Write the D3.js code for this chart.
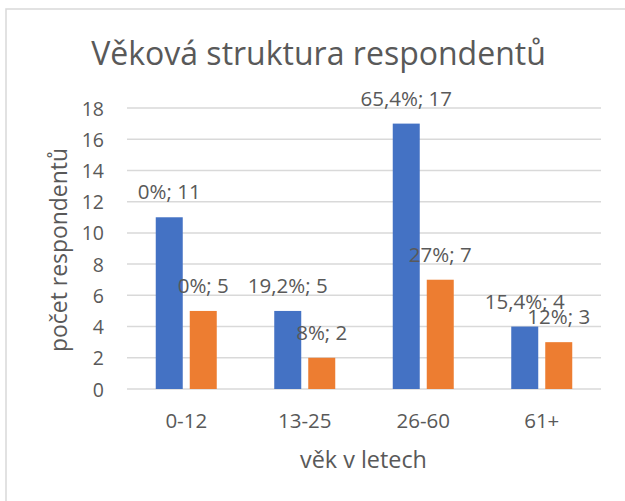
<!DOCTYPE html>
<html>
<head>
<meta charset="utf-8">
<script src="https://cdn.jsdelivr.net/npm/d3@7"></script>
<style>
  html, body { margin: 0; padding: 0; background: #fff; }
  svg { display: block; }
  text { font-family: "Open Sans", "Noto Sans", sans-serif; fill: #595959; }
</style>
</head>
<body>
<svg id="chart" width="625" height="501"></svg>
<script>
// ---- data ----
const categories = ["0-12", "13-25", "26-60", "61+"];
const seriesNames = ["A", "B"];
const seriesA = [11, 5, 17, 4];
const seriesB = [5, 2, 7, 3];
const labelsA = ["0%; 11", "19,2%; 5", "65,4%; 17", "15,4%; 4"];
const labelsB = ["0%; 5", "8%; 2", "27%; 7", "12%; 3"];
const yTicks = [0, 2, 4, 6, 8, 10, 12, 14, 16, 18];
const titleText = "Věková struktura respondentů";
const xTitle = "věk v letech";
const yTitle = "počet respondentů";
const colors = ["#4472C4", "#ED7D31"];

const svg = d3.select("#chart");

// chart frame
svg.append("rect").attr("x", 6).attr("y", 9).attr("width", 700).attr("height", 600)
  .attr("fill", "#fff").attr("stroke", "#d9d9d9").attr("stroke-width", 1.5);

const plot = { left: 127, right: 601, top: 108, bottom: 389 };

const y = d3.scaleLinear().domain([0, 18]).range([plot.bottom, plot.top]);
const x0 = d3.scaleBand().domain(categories).range([plot.left, plot.right]).padding(0);
const groupW = 61;
const x1 = d3.scaleBand().domain(seriesNames).range([0, groupW]).paddingInner(0.206).paddingOuter(0);

function fit(sel, target) {
  const node = sel.node();
  const base = parseFloat(sel.attr("font-size"));
  const w = node.getComputedTextLength();
  sel.attr("font-size", base * target / w);
  return sel;
}

// gridlines
svg.append("g").selectAll("line").data(yTicks).join("line")
  .attr("x1", plot.left).attr("x2", plot.right)
  .attr("y1", d => y(d)).attr("y2", d => y(d))
  .attr("stroke", "#d9d9d9").attr("stroke-width", 1.5);

// y axis tick labels
const yAxis = d3.axisLeft(y).tickValues(yTicks).tickSize(0).tickPadding(0).tickFormat(d3.format("d"));
const gy = svg.append("g").attr("transform", `translate(${plot.left - 23},0)`).call(yAxis);
gy.select(".domain").remove();
gy.selectAll("text").attr("font-size", 19.5).attr("font-family", "Open Sans").attr("fill", "#595959").attr("dy", "0.36em");

// x axis tick labels
const xAxis = d3.axisBottom(x0).tickSize(0).tickPadding(0);
const gx = svg.append("g").attr("transform", `translate(0,${plot.bottom})`).call(xAxis);
gx.select(".domain").remove();
gx.selectAll("text").attr("font-size", 20.5).attr("font-family", "Open Sans").attr("fill", "#595959")
  .attr("dy", null).attr("y", 39);

// bars
const rows = categories.map((c, i) => ({ cat: c, vals: [
  { s: "A", v: seriesA[i], label: labelsA[i], c: colors[0] },
  { s: "B", v: seriesB[i], label: labelsB[i], c: colors[1] }
]}));

const groups = svg.append("g").selectAll("g").data(rows).join("g")
  .attr("transform", d => `translate(${x0(d.cat) + x0.bandwidth() / 2 - groupW / 2},0)`);

groups.selectAll("rect").data(d => d.vals).join("rect")
  .attr("x", d => x1(d.s)).attr("width", x1.bandwidth())
  .attr("y", d => y(d.v)).attr("height", d => y(0) - y(d.v))
  .attr("fill", d => d.c);

// data labels
groups.selectAll("text.lbl").data(d => d.vals).join("text")
  .attr("class", "lbl")
  .attr("x", d => x1(d.s) + x1.bandwidth() / 2)
  .attr("y", d => y(d.v) - 18)
  .attr("text-anchor", "middle")
  .attr("font-size", 20.5)
  .text(d => d.label);

// title
const t = svg.append("text").attr("x", 318.5).attr("y", 65).attr("text-anchor", "middle")
  .attr("font-size", 30).text(titleText);
fit(t, 455);

// x axis title
const xt = svg.append("text").attr("x", 363.5).attr("y", 468).attr("text-anchor", "middle")
  .attr("font-size", 22).text(xTitle);
fit(xt, 127);

// y axis title
const yt = svg.append("text").attr("transform", "translate(67,250) rotate(-90)")
  .attr("text-anchor", "middle").attr("font-size", 22).text(yTitle);
fit(yt, 204);
</script>
</body>
</html>
